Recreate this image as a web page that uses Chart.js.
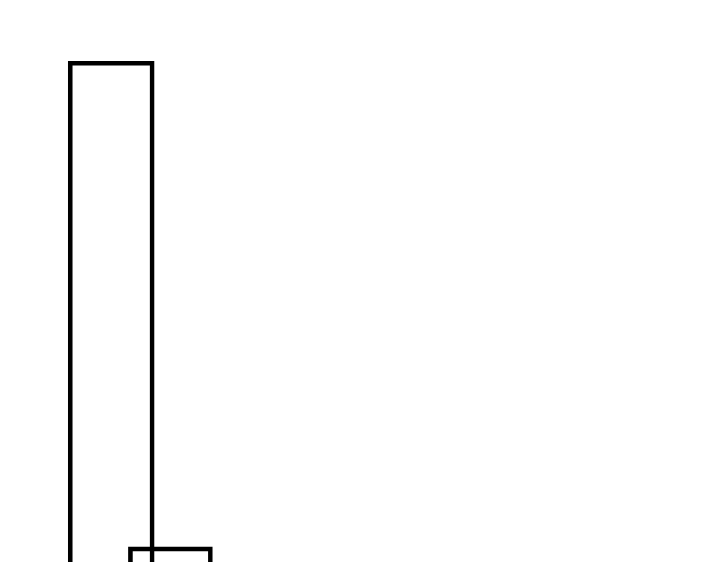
<!DOCTYPE html>
<html lang="en">
<head>
    <meta charset="UTF-8">
    <title>Bars</title>
    <style>
        html, body { margin: 0; padding: 0; background: #fff; overflow: hidden; }
        .chart-container { width: 720px; height: 562px; }
        canvas { display: block; }
    </style>
</head>
<body>
    <div class="chart-container">
        <canvas id="barChart" width="720" height="562"></canvas>
    </div>

    <script src="https://cdn.jsdelivr.net/npm/chart.js"></script>
    <script>
        // Values (both bars run past the bottom edge)
        const barNames = ['A', 'B'];
        const xPositions = [1.39, 2.13];
        const barValues = [89.1, 2.7];
        const barWidths = [86, 84];

        const ctx = document.getElementById('barChart').getContext('2d');

        const datasets = barNames.map((name, i) => ({
            label: name,
            data: [{ x: xPositions[i], y: barValues[i] }],
            backgroundColor: 'rgba(0, 0, 0, 0)',
            borderColor: '#000',
            borderWidth: 4,
            borderSkipped: 'start',
            barThickness: barWidths[i]
        }));

        new Chart(ctx, {
            type: 'bar',
            data: { datasets: datasets },
            options: {
                responsive: false,
                animation: false,
                devicePixelRatio: 1,
                grouped: false,
                layout: { padding: 0 },
                plugins: {
                    legend: { display: false },
                    tooltip: { enabled: false }
                },
                scales: {
                    x: { type: 'linear', min: 0, max: 9, offset: false, display: false },
                    y: { min: 0, max: 100, display: false }
                }
            }
        });
    </script>
</body>
</html>
